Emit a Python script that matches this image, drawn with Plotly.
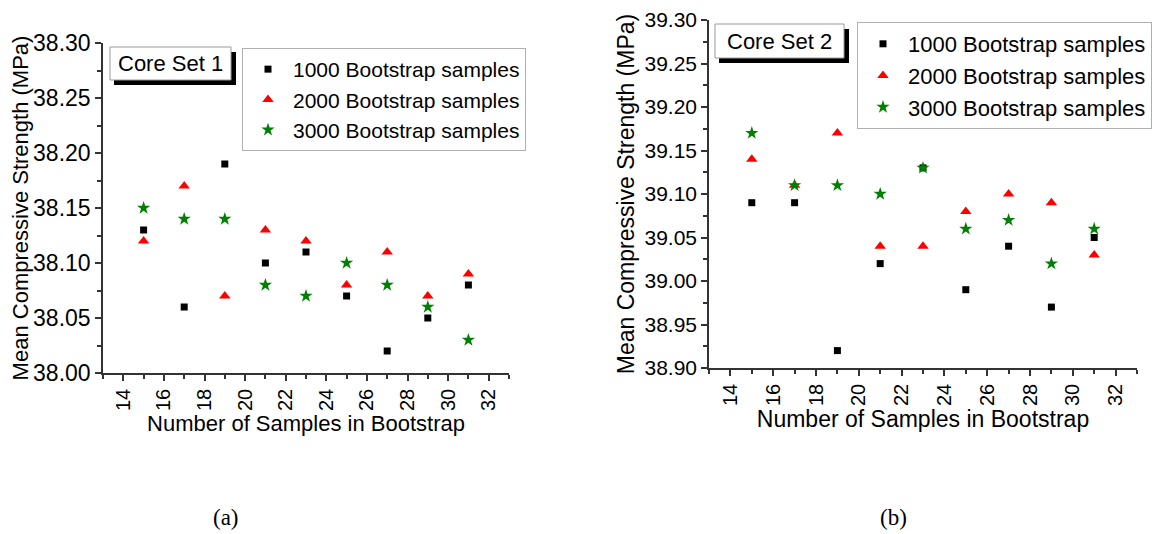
import plotly.graph_objects as go

W, H = 1169, 534
OFF = 8  # the page body margin shifts the figure by 8px right and down

x_samples = [15, 17, 19, 21, 23, 25, 27, 29, 31]
series_names = ["1000 Bootstrap samples", "2000 Bootstrap samples", "3000 Bootstrap samples"]

set1_1000 = [38.13, 38.06, 38.19, 38.10, 38.11, 38.07, 38.02, 38.05, 38.08]
set1_2000 = [38.12, 38.17, 38.07, 38.13, 38.12, 38.08, 38.11, 38.07, 38.09]
set1_3000 = [38.15, 38.14, 38.14, 38.08, 38.07, 38.10, 38.08, 38.06, 38.03]

set2_1000 = [39.09, 39.09, 38.92, 39.02, 39.13, 38.99, 39.04, 38.97, 39.05]
set2_2000 = [39.14, 39.11, 39.17, 39.04, 39.04, 39.08, 39.10, 39.09, 39.03]
set2_3000 = [39.17, 39.11, 39.11, 39.10, 39.13, 39.06, 39.07, 39.02, 39.06]

x_ticks = [14, 16, 18, 20, 22, 24, 26, 28, 30, 32]

FONT = "Liberation Sans, Arial, sans-serif"
SERIF = "Liberation Serif, Times New Roman, serif"


def px(x):
    return (x - OFF) / W


def py(y):
    return 1 - (y - OFF) / H


styles = [
    dict(symbol="square", color="black", size=7),
    dict(symbol="triangle-up", color="red", size=10),
    dict(symbol="star", color="green", size=10),
]

fig = go.Figure()

for i, (vals, nm) in enumerate(zip([set1_1000, set1_2000, set1_3000], series_names)):
    fig.add_trace(go.Scatter(x=x_samples, y=vals, mode="markers", name=nm,
                             marker=dict(symbol=styles[i]["symbol"], color=styles[i]["color"],
                                         size=styles[i]["size"], line=dict(width=0)),
                             xaxis="x", yaxis="y", legend="legend"))
for i, (vals, nm) in enumerate(zip([set2_1000, set2_2000, set2_3000], series_names)):
    fig.add_trace(go.Scatter(x=x_samples, y=vals, mode="markers", name=nm,
                             marker=dict(symbol=styles[i]["symbol"], color=styles[i]["color"],
                                         size=styles[i]["size"], line=dict(width=0)),
                             xaxis="x2", yaxis="y2", legend="legend2"))

axis_common = dict(showline=True, linecolor="#333333", linewidth=1.5, showgrid=False,
                   zeroline=False, ticks="outside", ticklen=6, tickwidth=1.5, tickcolor="#333333",
                   mirror=False, automargin=False, ticklabeloverflow="allow")


def xaxis_cfg(domain, anchor, title_size):
    return dict(axis_common, domain=domain, anchor=anchor, range=[13, 33], tickvals=x_ticks,
                tickangle=-90, tickfont=dict(family=FONT, size=20, color="black"),
                minor=dict(dtick=1, tick0=13, ticks="outside", ticklen=4, tickcolor="#333333"),
                title=dict(text="Number of Samples in Bootstrap",
                           font=dict(family=FONT, size=title_size, color="black"), standoff=2))


def yaxis_cfg(domain, anchor, rng, tick_size, title_size, standoff):
    return dict(axis_common, domain=domain, anchor=anchor, range=rng,
                dtick=0.05, tick0=rng[0], tickformat=".2f",
                tickfont=dict(family=FONT, size=tick_size, color="black"),
                minor=dict(dtick=0.025, tick0=rng[0], ticks="outside", ticklen=4, tickcolor="#333333"),
                title=dict(text="Mean Compressive Strength (MPa)",
                           font=dict(family=FONT, size=title_size, color="black"), standoff=standoff))


fig.update_layout(
    width=W, height=H,
    margin=dict(l=0, r=0, t=0, b=0, autoexpand=False),
    paper_bgcolor="white", plot_bgcolor="white",
    font=dict(family=FONT, color="black"),
    xaxis=xaxis_cfg([px(103), px(509)], "y", 22),
    yaxis=yaxis_cfg([py(373), py(43)], "x", [38.0, 38.30], 23, 22, 0),
    xaxis2=xaxis_cfg([px(709), px(1137)], "y2", 23),
    yaxis2=yaxis_cfg([py(368), py(20)], "x2", [38.90, 39.30], 21, 23, 3),
    legend=dict(x=px(242), y=py(48), xanchor="left", yanchor="top",
                bordercolor="#b0b0b0", borderwidth=1, bgcolor="white", itemwidth=40,
                font=dict(family=FONT, size=21, color="black"), tracegroupgap=0),
    legend2=dict(x=px(857), y=py(22), xanchor="left", yanchor="top",
                 bordercolor="#b0b0b0", borderwidth=1, bgcolor="white", itemwidth=40,
                 font=dict(family=FONT, size=22, color="black"), tracegroupgap=0),
    showlegend=True,
)

shapes = []
annotations = []
for (x0, y0, x1, y1, label) in [(110, 47, 231, 80, "Core Set 1"), (715, 24, 844, 58, "Core Set 2")]:
    shapes.append(dict(type="rect", xref="paper", yref="paper",
                       x0=px(x0 + 4), x1=px(x1 + 5), y0=py(y1 + 5), y1=py(y0 + 5),
                       fillcolor="black", line=dict(width=0), layer="above"))
    shapes.append(dict(type="rect", xref="paper", yref="paper",
                       x0=px(x0), x1=px(x1), y0=py(y1), y1=py(y0),
                       fillcolor="white", line=dict(width=1, color="#999999"), layer="above"))
    annotations.append(dict(text=label, xref="paper", yref="paper",
                            x=px((x0 + x1) / 2), y=py((y0 + y1) / 2), xanchor="center", yanchor="middle",
                            showarrow=False, font=dict(family=FONT, size=22, color="black")))

annotations.append(dict(text="(a)", xref="paper", yref="paper", x=px(226), y=py(517),
                        xanchor="center", yanchor="middle", showarrow=False,
                        font=dict(family=SERIF, size=23, color="black")))
annotations.append(dict(text="(b)", xref="paper", yref="paper", x=px(893), y=py(517),
                        xanchor="center", yanchor="middle", showarrow=False,
                        font=dict(family=SERIF, size=23, color="black")))

fig.update_layout(shapes=shapes, annotations=annotations)

fig.write_html("out.html")
